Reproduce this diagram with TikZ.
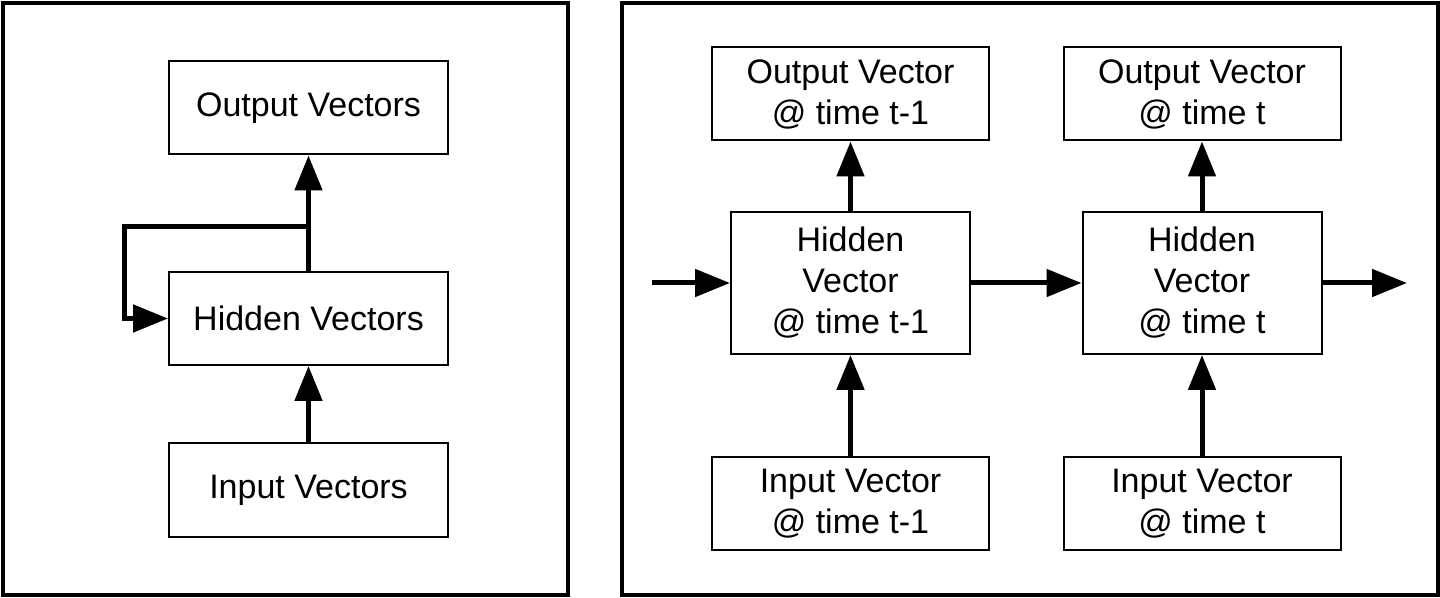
\documentclass[tikz,border=0pt]{standalone}
\usepackage{fontspec}
\setmainfont{Liberation Sans}
\usetikzlibrary{arrows.meta}
\begin{document}
\begin{tikzpicture}[x=0.5pt, y=-0.5pt,
  vecbox/.style={draw, line width=1pt, inner sep=0pt, align=center,
    font=\fontsize{17}{20.5}\selectfont},
  vec/.style={line width=2.5pt, -{Triangle[length=17.5pt, width=13.5pt]}},
  frame/.style={line width=2pt}]
\useasboundingbox (0,0) rectangle (1440,598);
% ---- the two panels ----
\draw[frame] (2.5,3) rectangle (568,595);
\draw[frame] (622,3) rectangle (1437.5,595);
% ---- folded network (left) ----
\node[vecbox, minimum width=139.5pt, minimum height=46.5pt] (out) at (308.5,108) {Output Vectors};
\node[vecbox, minimum width=139.5pt, minimum height=46.5pt] (hid) at (308.5,318.5) {Hidden Vectors};
\node[vecbox, minimum width=139.5pt, minimum height=46.5pt] (inp) at (308.5,490) {Input Vectors};
\coordinate (loop) at (124.5,227);
\draw[vec] (inp) -- (hid);
\draw[vec] (hid) -- (out);
\draw[vec] (hid.north |- loop) -- (loop) |- (hid.west);
% ---- unrolled over time (right) ----
\foreach \c/\x/\t in {a/850.5/{t-1}, b/1202/t} {
  \node[vecbox, minimum width=138.5pt, minimum height=46.5pt] (out\c) at (\x,94) {Output Vector\\@ time \t};
  \node[vecbox, minimum width=119.5pt, minimum height=71pt] (hid\c) at (\x,283) {Hidden\\Vector\\@ time \t};
  \node[vecbox, minimum width=138.5pt, minimum height=46.5pt] (inp\c) at (\x,503.5) {Input Vector\\@ time \t};
  \draw[vec] (inp\c) -- (hid\c);
  \draw[vec] (hid\c) -- (out\c);
}
\coordinate (prev) at (652,283);
\coordinate (next) at (1407,283);
\draw[vec] (prev) -- (hida);
\draw[vec] (hida) -- (hidb);
\draw[vec] (hidb) -- (next);
\end{tikzpicture}
\end{document}
